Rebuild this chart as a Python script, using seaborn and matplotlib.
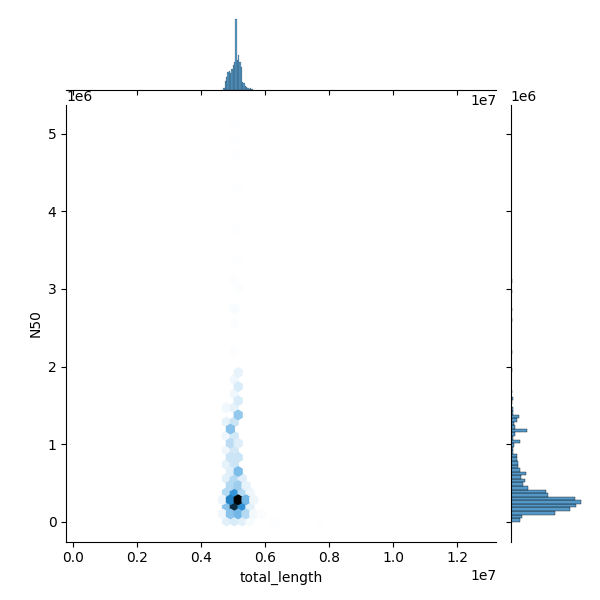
import numpy as np
import pandas as pd
import matplotlib
matplotlib.use("Agg")
import matplotlib.pyplot as plt
import seaborn as sns
from matplotlib.colors import to_rgb

# hex cells (total_length, N50, number of assemblies)
cell_length = [4.670e6, 4.914e6, 5.158e6, 5.402e6, 5.646e6,
               4.792e6, 5.036e6, 5.280e6, 5.524e6,
               4.670e6, 4.914e6, 5.158e6, 5.402e6, 5.646e6,
               4.792e6, 5.036e6, 5.280e6, 5.524e6,
               4.792e6, 5.036e6, 5.280e6, 5.524e6,
               4.914e6, 5.158e6, 5.402e6,
               4.792e6, 5.036e6, 5.280e6,
               4.914e6, 5.158e6,
               4.792e6, 5.036e6,
               4.914e6, 5.158e6,
               4.792e6, 5.036e6,
               4.914e6, 5.158e6,
               4.792e6, 5.036e6,
               4.914e6,
               4.792e6, 5.036e6,
               5.158e6,
               4.792e6, 5.036e6,
               5.158e6, 5.036e6, 5.158e6, 5.036e6, 5.158e6,
               5.036e6, 5.036e6, 5.036e6, 5.158e6, 5.036e6, 5.158e6,
               5.158e6, 5.158e6, 5.036e6, 5.036e6, 5.036e6,
               5.900e6, 6.200e6, 7.600e6, 0.400e6, 12.600e6]
cell_n50 = [0.273e6, 0.273e6, 0.273e6, 0.273e6, 0.273e6,
            0.182e6, 0.182e6, 0.182e6, 0.182e6,
            0.091e6, 0.091e6, 0.091e6, 0.091e6, 0.091e6,
            0.010e6, 0.010e6, 0.010e6, 0.010e6,
            0.364e6, 0.364e6, 0.364e6, 0.364e6,
            0.455e6, 0.455e6, 0.455e6,
            0.546e6, 0.546e6, 0.546e6,
            0.637e6, 0.637e6,
            0.728e6, 0.728e6,
            0.819e6, 0.819e6,
            0.911e6, 0.911e6,
            1.002e6, 1.002e6,
            1.093e6, 1.093e6,
            1.184e6,
            1.275e6, 1.275e6,
            1.366e6,
            1.457e6, 1.457e6,
            1.548e6, 1.639e6, 1.730e6, 1.821e6, 1.912e6,
            2.200e6, 2.580e6, 2.750e6, 2.970e6, 3.100e6, 3.360e6,
            3.720e6, 4.280e6, 4.730e6, 4.900e6, 5.110e6,
            0.100e6, 0.050e6, 0.010e6, 0.020e6, 0.020e6]
cell_count = [20, 220, 400, 130, 16,
              110, 340, 200, 28,
              16, 110, 130, 70, 12,
              28, 36, 28, 10,
              70, 190, 70, 16,
              70, 90, 24,
              28, 70, 32,
              32, 120,
              24, 48,
              48, 48,
              16, 40,
              64, 32,
              16, 40,
              110,
              24, 48,
              100,
              14, 24,
              36, 14, 36, 14, 24,
              5, 5, 8, 5, 5, 3,
              3, 3, 3, 3, 3,
              6, 3, 3, 1, 1]

# marginal histogram of total_length
length_bin_start = 4.696e6
length_counts = [6, 28, 40, 53, 56, 50, 63, 73, 83, 211, 88,
                 103, 83, 68, 23, 20, 13, 10, 6, 3, 6, 3]

# marginal histogram of N50 (bins from 0) and its sparse upper tail
n50_counts = [26, 33, 130, 175, 192, 208, 188, 110, 102, 50, 35, 42,
              30, 45, 28, 22, 20, 18, 18, 5, 5, 8, 28, 5, 12, 48,
              12, 8, 18, 25, 5, 5, 0, 4, 7]
n50_tail_values = [1.70e6, 1.95e6, 2.20e6, 2.58e6, 2.75e6, 2.97e6,
                   3.10e6, 3.36e6, 3.72e6, 4.28e6, 4.73e6, 4.90e6, 5.08e6]
n50_tail_counts = [2, 3, 2, 2, 3, 2, 2, 1, 1, 1, 1, 1, 1]

length_width = 41.6e3
n50_width = 46e3

df = pd.DataFrame({
    "total_length": np.repeat(cell_length, cell_count),
    "N50": np.repeat(cell_n50, cell_count),
})

# same white -> C0 -> black ramp that jointplot(kind="hex") builds
ramp = [sns.utils.set_hls_values(to_rgb("C0"), l=v) for v in np.linspace(1, 0, 12)]
cmap = sns.blend_palette(ramp, as_cmap=True)

g = sns.JointGrid(data=df, x="total_length", y="N50", height=6)
g.plot_joint(plt.hexbin, gridsize=50, cmap=cmap, mincnt=1)

n_len = len(length_counts)
len_df = pd.DataFrame({
    "total_length": length_bin_start + length_width * (np.arange(n_len) + 0.5),
    "count": length_counts,
})
sns.histplot(data=len_df, x="total_length", weights="count",
             binwidth=length_width,
             binrange=(length_bin_start, length_bin_start + n_len * length_width),
             ax=g.ax_marg_x)

n50_top = n50_width * 111
n50_df = pd.DataFrame({
    "N50": np.concatenate([n50_width * (np.arange(len(n50_counts)) + 0.5),
                           n50_tail_values]),
    "count": np.concatenate([n50_counts, n50_tail_counts]),
})
sns.histplot(data=n50_df, y="N50", weights="count", binwidth=n50_width,
             binrange=(0, n50_top), ax=g.ax_marg_y)

g.ax_marg_x.set_xlabel("")
g.ax_marg_x.set_ylabel("")
g.ax_marg_y.set_xlabel("")
g.ax_marg_y.set_ylabel("")
g.set_axis_labels("total_length", "N50")

g.figure.savefig("out.png", dpi=100)
